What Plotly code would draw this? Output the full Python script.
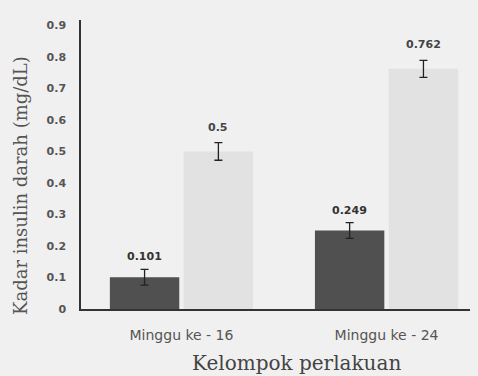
import plotly.graph_objects as go

categories = ["Minggu ke - 16", "Minggu ke - 24"]
dark_values = [0.101, 0.249]
light_values = [0.5, 0.762]
dark_err = [0.025, 0.025]
light_err = [0.028, 0.027]
dark_labels = ["0.101", "0.249"]
light_labels = ["0.5", "0.762"]
y_ticks = [0, 0.1, 0.2, 0.3, 0.4, 0.5, 0.6, 0.7, 0.8, 0.9]
y_tick_text = ["0", "0.1", "0.2", "0.3", "0.4", "0.5", "0.6", "0.7", "0.8", "0.9"]

SANS = "DejaVu Sans, Arial"
SERIF = "DejaVu Serif, Liberation Serif, Times New Roman"
BG = "#f0f0f0"

fig = go.Figure()
fig.add_trace(go.Bar(
    x=categories, y=dark_values, name="dark",
    marker=dict(color="#505050", line=dict(width=0)),
    error_y=dict(type="data", array=dark_err, color="#222", thickness=1.3, width=4),
))
fig.add_trace(go.Bar(
    x=categories, y=light_values, name="light",
    marker=dict(color="#e2e2e2", line=dict(width=0)),
    error_y=dict(type="data", array=light_err, color="#222", thickness=1.3, width=4),
))

for i, c in enumerate(categories):
    fig.add_annotation(x=c, y=dark_values[i] + dark_err[i], text=dark_labels[i],
                       xshift=-37, yshift=4, yanchor="bottom", showarrow=False,
                       font=dict(family=SANS, size=11, color="#333", weight="bold"))
    fig.add_annotation(x=c, y=light_values[i] + light_err[i], text=light_labels[i],
                       xshift=37, yshift=7, yanchor="bottom", showarrow=False,
                       font=dict(family=SANS, size=11, color="#444", weight="bold"))

fig.add_annotation(xref="paper", yref="paper", x=0, y=0.5, xshift=-73, yshift=-21,
                   text="Kadar insulin darah (mg/dL)", textangle=-90, showarrow=False,
                   font=dict(family=SERIF, size=18, color="#555"))
fig.add_annotation(xref="paper", yref="paper", x=0.544, y=0, yshift=-54,
                   text="Kelompok perlakuan", showarrow=False, yanchor="middle",
                   font=dict(family=SERIF, size=20, color="#444"))

fig.update_layout(
    width=470, height=368,
    margin=dict(l=73, r=0, t=12, b=67),
    paper_bgcolor=BG, plot_bgcolor=BG,
    barmode="group", bargap=0.28, bargroupgap=0.06,
    showlegend=False,
)
fig.update_xaxes(
    range=[-0.49, 1.446], showline=True, linecolor="#333", linewidth=2,
    showgrid=False, zeroline=False, ticks="outside", ticklen=12, tickcolor="rgba(0,0,0,0)",
    tickfont=dict(family=SANS, size=14, color="#555"),
)
fig.update_yaxes(
    range=[0, 0.917], tickvals=y_ticks, ticktext=y_tick_text,
    showline=True, linecolor="#333", linewidth=1.5,
    showgrid=False, zeroline=False, ticks="outside", ticklen=11, tickcolor="rgba(0,0,0,0)",
    tickfont=dict(family=SANS, size=11, color="#555", weight="bold"),
)

fig.write_html("out.html", post_script="document.body.style.background='%s';" % BG)
